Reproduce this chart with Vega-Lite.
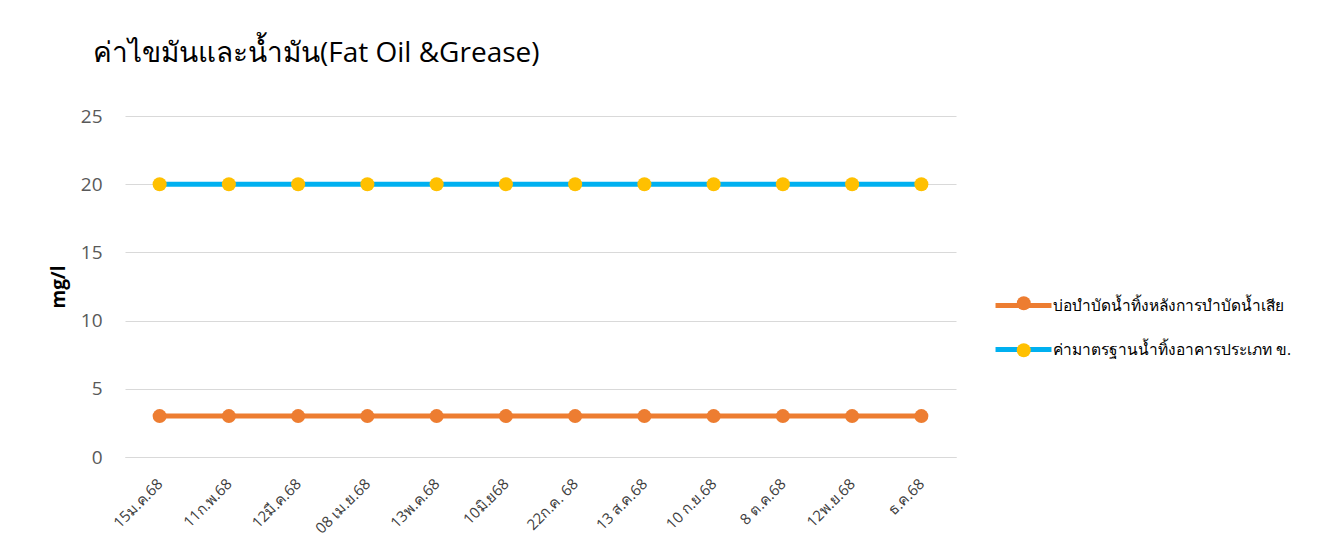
{
  "$schema": "https://vega.github.io/schema/vega-lite/v6.json",
  "width": 831,
  "height": 341,
  "autosize": {"type": "none"},
  "padding": {"left": 125, "top": 116, "right": 366, "bottom": 101},
  "background": "white",
  "title": {
    "text": "ค่าไขมันและน้ำมัน(Fat Oil &Grease)",
    "anchor": "start",
    "frame": "group",
    "dx": -32,
    "offset": 39,
    "fontSize": 28,
    "fontWeight": "normal",
    "color": "#000000",
    "font": "Open Sans"
  },
  "config": {
    "view": {"stroke": null},
    "font": "Open Sans"
  },
  "data": {
    "values": [
      {"date": "15ม.ค.68", "series": "บ่อบำบัดน้ำทิ้งหลังการบำบัดน้ำเสีย", "value": 3},
      {"date": "11ก.พ.68", "series": "บ่อบำบัดน้ำทิ้งหลังการบำบัดน้ำเสีย", "value": 3},
      {"date": "12มี.ค.68", "series": "บ่อบำบัดน้ำทิ้งหลังการบำบัดน้ำเสีย", "value": 3},
      {"date": "08 เม.ย.68", "series": "บ่อบำบัดน้ำทิ้งหลังการบำบัดน้ำเสีย", "value": 3},
      {"date": "13พ.ค.68", "series": "บ่อบำบัดน้ำทิ้งหลังการบำบัดน้ำเสีย", "value": 3},
      {"date": "10มิ.ย68", "series": "บ่อบำบัดน้ำทิ้งหลังการบำบัดน้ำเสีย", "value": 3},
      {"date": "22ก.ค. 68", "series": "บ่อบำบัดน้ำทิ้งหลังการบำบัดน้ำเสีย", "value": 3},
      {"date": "13 ส.ค.68", "series": "บ่อบำบัดน้ำทิ้งหลังการบำบัดน้ำเสีย", "value": 3},
      {"date": "10 ก.ย.68", "series": "บ่อบำบัดน้ำทิ้งหลังการบำบัดน้ำเสีย", "value": 3},
      {"date": "8 ต.ค.68", "series": "บ่อบำบัดน้ำทิ้งหลังการบำบัดน้ำเสีย", "value": 3},
      {"date": "12พ.ย.68", "series": "บ่อบำบัดน้ำทิ้งหลังการบำบัดน้ำเสีย", "value": 3},
      {"date": "ธ.ค.68", "series": "บ่อบำบัดน้ำทิ้งหลังการบำบัดน้ำเสีย", "value": 3},
      {"date": "15ม.ค.68", "series": "ค่ามาตรฐานน้ำทิ้งอาคารประเภท ข.", "value": 20},
      {"date": "11ก.พ.68", "series": "ค่ามาตรฐานน้ำทิ้งอาคารประเภท ข.", "value": 20},
      {"date": "12มี.ค.68", "series": "ค่ามาตรฐานน้ำทิ้งอาคารประเภท ข.", "value": 20},
      {"date": "08 เม.ย.68", "series": "ค่ามาตรฐานน้ำทิ้งอาคารประเภท ข.", "value": 20},
      {"date": "13พ.ค.68", "series": "ค่ามาตรฐานน้ำทิ้งอาคารประเภท ข.", "value": 20},
      {"date": "10มิ.ย68", "series": "ค่ามาตรฐานน้ำทิ้งอาคารประเภท ข.", "value": 20},
      {"date": "22ก.ค. 68", "series": "ค่ามาตรฐานน้ำทิ้งอาคารประเภท ข.", "value": 20},
      {"date": "13 ส.ค.68", "series": "ค่ามาตรฐานน้ำทิ้งอาคารประเภท ข.", "value": 20},
      {"date": "10 ก.ย.68", "series": "ค่ามาตรฐานน้ำทิ้งอาคารประเภท ข.", "value": 20},
      {"date": "8 ต.ค.68", "series": "ค่ามาตรฐานน้ำทิ้งอาคารประเภท ข.", "value": 20},
      {"date": "12พ.ย.68", "series": "ค่ามาตรฐานน้ำทิ้งอาคารประเภท ข.", "value": 20},
      {"date": "ธ.ค.68", "series": "ค่ามาตรฐานน้ำทิ้งอาคารประเภท ข.", "value": 20}
    ]
  },
  "encoding": {
    "x": {
      "field": "date",
      "type": "nominal",
      "sort": null,
      "scale": {"type": "point", "padding": 0.5},
      "axis": {
        "title": null,
        "labelAngle": -45,
        "labelAlign": "right",
        "labelBaseline": "middle",
        "labelPadding": 24,
        "labelFontSize": 15,
        "labelColor": "#404040",
        "ticks": false,
        "domainColor": "#d9d9d9",
        "grid": false
      }
    },
    "y": {
      "field": "value",
      "type": "quantitative",
      "scale": {"domain": [0, 25], "nice": false},
      "axis": {
        "title": "mg/l",
        "titleFontSize": 19,
        "titleFontWeight": "bold",
        "titleColor": "#000000",
        "titlePadding": 12,
        "values": [0, 5, 10, 15, 20, 25],
        "labelFontSize": 19,
        "labelColor": "#595959",
        "labelPadding": 23,
        "ticks": false,
        "domain": false,
        "gridColor": "#d9d9d9",
        "gridWidth": 1
      }
    }
  },
  "layer": [
    {
      "mark": {"type": "line", "strokeWidth": 5},
      "encoding": {
        "color": {
          "field": "series",
          "type": "nominal",
          "sort": null,
          "scale": {
            "domain": ["บ่อบำบัดน้ำทิ้งหลังการบำบัดน้ำเสีย", "ค่ามาตรฐานน้ำทิ้งอาคารประเภท ข."],
            "range": ["#ED7D31", "#00B0F0"]
          },
          "legend": {
            "title": null,
            "orient": "none",
            "legendX": 888.5,
            "legendY": 179.5,
            "padding": 0,
            "symbolType": "M-3.73,0L3.73,0",
            "symbolSize": 225,
            "symbolStrokeWidth": 5,
            "labelOffset": 19.5,
            "labelFontSize": 15.5,
            "labelColor": "#000000",
            "rowPadding": 24,
            "labelLimit": 400
          }
        }
      }
    },
    {
      "mark": {"type": "point", "filled": true, "shape": "circle", "size": 196, "opacity": 1},
      "encoding": {
        "fill": {
          "field": "series",
          "type": "nominal",
          "sort": null,
          "scale": {
            "domain": ["ค่ามาตรฐานน้ำทิ้งอาคารประเภท ข.", "บ่อบำบัดน้ำทิ้งหลังการบำบัดน้ำเสีย"],
            "range": ["#FFC000", "#ED7D31"]
          },
          "legend": {
            "title": null,
            "orient": "none",
            "legendX": 891,
            "legendY": 179.5,
            "padding": 0,
            "values": ["บ่อบำบัดน้ำทิ้งหลังการบำบัดน้ำเสีย", "ค่ามาตรฐานน้ำทิ้งอาคารประเภท ข."],
            "symbolType": "circle",
            "symbolSize": 196,
            "symbolOpacity": 1,
            "symbolStrokeWidth": 0,
            "labelOffset": 23,
            "labelFontSize": 15.5,
            "labelOpacity": 0,
            "rowPadding": 30,
            "labelLimit": 400
          }
        }
      }
    }
  ]
}
